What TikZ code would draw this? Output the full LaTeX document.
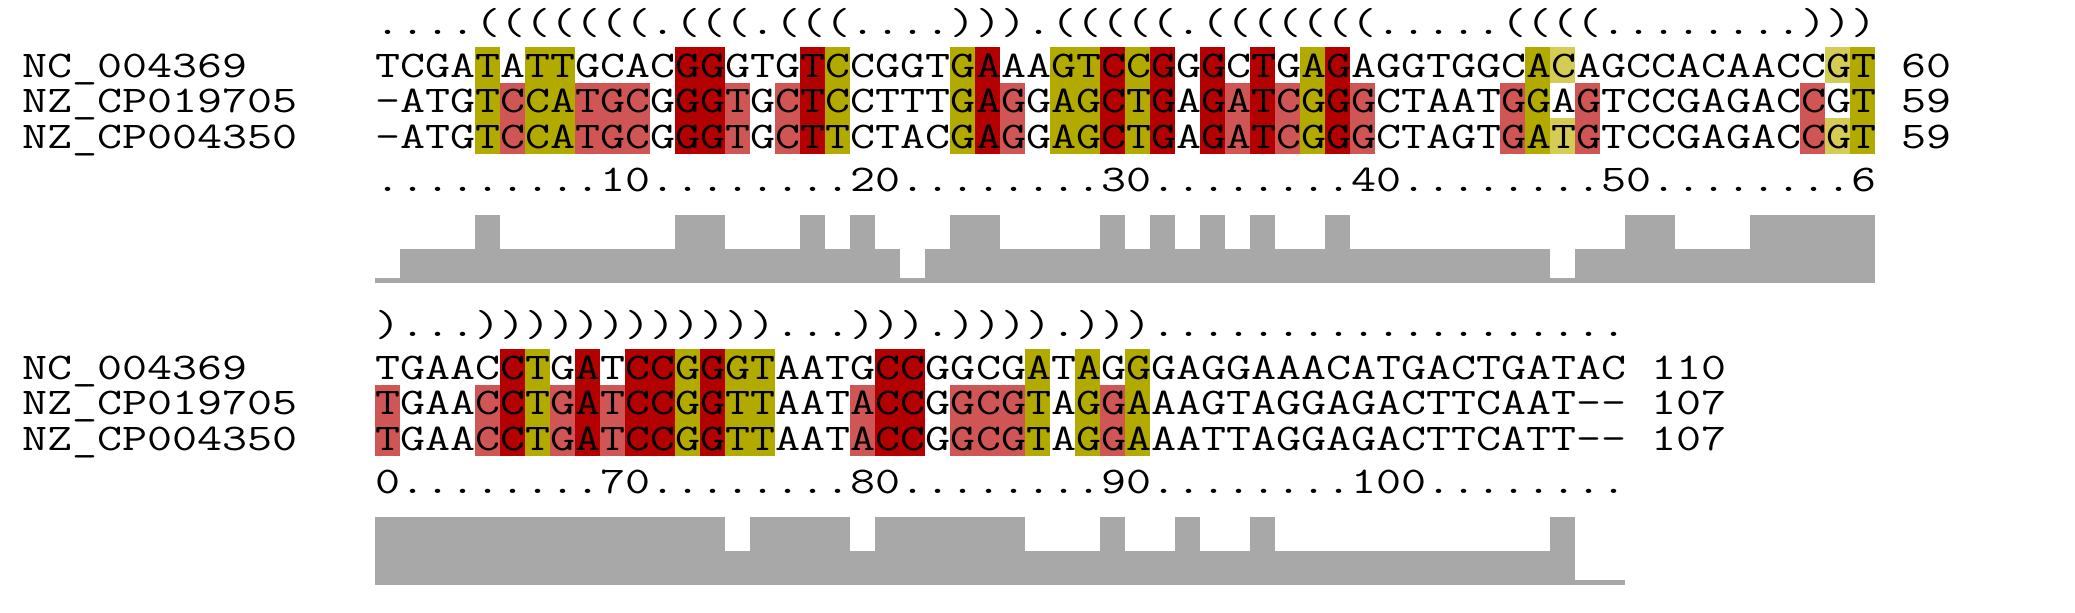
\documentclass[tikz,border=0pt]{standalone}
\usepackage{graphicx}
\definecolor{dred}{RGB}{179,0,0}
\definecolor{lred}{RGB}{208,86,86}
\definecolor{olive}{RGB}{179,170,0}
\definecolor{lolive}{RGB}{212,204,85}
\definecolor{bargray}{RGB}{168,168,168}
\newcount\cellidx
\newcommand\stretchtxt[1]{\scalebox{1.291}[1]{#1}}
% highlight cells: #1 = top y of row, #2 = string of codes (o none, R, r, Y, y)
\newcommand\hlrow[2]{\global\cellidx=0 \def\hlrowtop{#1}\hlloop#2\relax}
\def\hlloop#1{\ifx#1\relax\else\hlcell#1\global\advance\cellidx by 1 \expandafter\hlloop\fi}
\def\hlcell#1{%
  \ifx#1R\fill[dred] (374.8+25*\the\cellidx,\hlrowtop) rectangle ++(25.4,35.6);\fi
  \ifx#1r\fill[lred] (374.8+25*\the\cellidx,\hlrowtop) rectangle ++(25.4,35.6);\fi
  \ifx#1Y\fill[olive] (374.8+25*\the\cellidx,\hlrowtop) rectangle ++(25.4,35.6);\fi
  \ifx#1y\fill[lolive] (374.8+25*\the\cellidx,\hlrowtop) rectangle ++(25.4,35.6);\fi}
% conservation bars: #1 = base y, #2 = string of H/M/L
\newcommand\barrow[2]{\global\cellidx=0 \def\barbase{#1}\barloop#2\relax}
\def\barloop#1{\ifx#1\relax\else\barcell#1\global\advance\cellidx by 1 \expandafter\barloop\fi}
\def\barcell#1{%
  \ifx#1H\def\barh{67.4}\fi
  \ifx#1M\def\barh{34}\fi
  \ifx#1L\def\barh{4.4}\fi
  \fill[bargray] (374.8+25*\the\cellidx,\barbase) rectangle ++(25.4,-\barh);}
\tikzset{seqtxt/.style={font=\ttfamily\fontsize{18.82}{22}\selectfont, inner sep=0pt, anchor=base west, text=black}}
\begin{document}
\begin{tikzpicture}[x=0.5pt,y=-0.5pt]
\fill[white] (0,0) rectangle (2075,612);
\useasboundingbox (0,0) rectangle (2075,612);
% ---------- block 1 ----------
\hlrow{47.3}{ooooYoYYooooRRoooRYooooYRooYYRYRoRoRoYRoooooooYyooooooooooyY}
\hlrow{82.8}{ooooYrYYrrroRRrorRYooooYRroYYRYRoRrRrYRrooooorYorooooooooroY}
\hlrow{118.3}{ooooYrYYrrroRRrorRYooooYRroYYRYRoRrRrYRrooooorYyrooooooooryY}
\barrow{282.7}{LMMMHMMMMMMMHHMMMHMHMLMHHMMMMHMHMHMHMMHMMMMMMMMLMMHHMMMHHHHH}
\node[seqtxt] (ss1) at (375,34) {\stretchtxt{....(((((((.(((.(((....))).(((((.(((((((.....((((........)))}};
\node[seqtxt] (n11) at (22,77.3) {\stretchtxt{NC\_004369}};
\node[seqtxt] (n12) at (22,112.8) {\stretchtxt{NZ\_CP019705}};
\node[seqtxt] (n13) at (22,148.3) {\stretchtxt{NZ\_CP004350}};
\node[seqtxt] (s11) at (375,77.3) {\stretchtxt{TCGATATTGCACGGGTGTCCGGTGAAAGTCCGGGCTGAGAGGTGGCACAGCCACAACCGT 60}};
\node[seqtxt] (s12) at (375,112.8) {\stretchtxt{-ATGTCCATGCGGGTGCTCCTTTGAGGAGCTGAGATCGGGCTAATGGAGTCCGAGACCGT 59}};
\node[seqtxt] (s13) at (375,148.3) {\stretchtxt{-ATGTCCATGCGGGTGCTTCTACGAGGAGCTGAGATCGGGCTAGTGATGTCCGAGACCGT 59}};
\node[seqtxt] (ru1) at (375,191) {\stretchtxt{.........10........20........30........40........50........6}};
% ---------- block 2 ----------
\hlrow{349.3}{oooooRYoRoRRYRYYooooRRooooYoYoYooooooooooooooooooo}
\hlrow{384.8}{rooorRYrRrRRYRYYooorRRorrrYoYrYooooooooooooooooooo}
\hlrow{420.3}{rooorRYrRrRRYRYYooorRRorrrYoYrYooooooooooooooooooo}
\barrow{584.7}{HHHHHHHHHHHHHHMHHHHMHHHHHHMMMHMMHMMHMMMMMMMMMMMHLL}
\node[seqtxt] (ss2) at (375,336) {\stretchtxt{)...))))))))))))...))).)))).)))...................}};
\node[seqtxt] (n21) at (22,379.3) {\stretchtxt{NC\_004369}};
\node[seqtxt] (n22) at (22,414.8) {\stretchtxt{NZ\_CP019705}};
\node[seqtxt] (n23) at (22,450.3) {\stretchtxt{NZ\_CP004350}};
\node[seqtxt] (s21) at (375,379.3) {\stretchtxt{TGAACCTGATCCGGGTAATGCCGGCGATAGGGAGGAAACATGACTGATAC 110}};
\node[seqtxt] (s22) at (375,414.8) {\stretchtxt{TGAACCTGATCCGGTTAATACCGGCGTAGGAAAGTAGGAGACTTCAAT-\kern0pt- 107}};
\node[seqtxt] (s23) at (375,450.3) {\stretchtxt{TGAACCTGATCCGGTTAATACCGGCGTAGGAAATTAGGAGACTTCATT-\kern0pt- 107}};
\node[seqtxt] (ru2) at (375,493) {\stretchtxt{0........70........80........90........100........}};
\end{tikzpicture}
\end{document}
